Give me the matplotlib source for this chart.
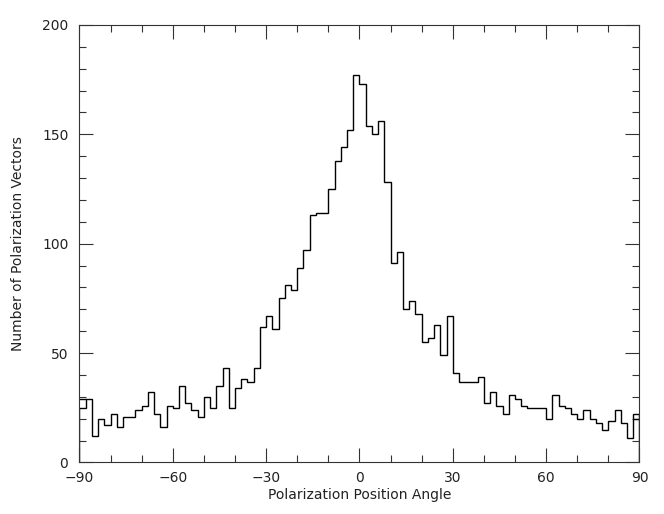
import numpy as np
import matplotlib
matplotlib.use("Agg")
import matplotlib.pyplot as plt
from matplotlib.ticker import MultipleLocator

# histogram of polarization position angles, 2 deg bins from -90 to 90
bin_edges = np.arange(-90, 92, 2)
counts = [
    25, 29, 12, 20, 17, 22, 16, 21, 21, 24, 26, 32, 22, 16, 26,      # -90..-60
    25, 35, 27, 24, 21, 30, 25, 35, 43, 25, 34, 38, 37, 43, 62,      # -60..-30
    67, 61, 75, 81, 79, 89, 97, 113, 114, 114, 125, 138, 144, 152, 177,  # -30..0
    173, 154, 150, 156, 128, 91, 96, 70, 74, 68, 55, 57, 63, 49, 67,  # 0..30
    41, 37, 37, 37, 39, 27, 32, 26, 22, 31, 29, 26, 25, 25, 25,      # 30..60
    20, 31, 26, 25, 22, 20, 24, 20, 18, 15, 19, 24, 18, 11, 22,      # 60..90
]
# wrapped levels drawn again over the edge bins
wrap_left = 29
wrap_right = 20

x_ticks = [-90, -60, -30, 0, 30, 60, 90]
y_ticks = [0, 50, 100, 150, 200]

plt.rcParams['font.family'] = ['DejaVu Sans']
fig = plt.figure(figsize=(6.64, 5.14), dpi=100)
ax = fig.add_axes([0.1197, 0.1002, 0.8434, 0.8512])

ax.stairs(counts, bin_edges, color='black', lw=1.0)
ax.hlines(wrap_left, bin_edges[0], bin_edges[1], color='black', lw=1.0)
ax.hlines(wrap_right, bin_edges[-2], bin_edges[-1], color='black', lw=1.0)

ax.set_xlim(-90, 90)
ax.set_ylim(0, 200)
ax.set_xticks(x_ticks)
ax.set_yticks(y_ticks)
ax.xaxis.set_minor_locator(MultipleLocator(10))
ax.yaxis.set_minor_locator(MultipleLocator(10))
ax.tick_params(which='both', direction='in', top=True, right=True,
               color='#333333', width=0.8, labelsize=10, labelcolor='#222222')
ax.tick_params(which='major', length=10, pad=6)
ax.tick_params(which='minor', length=5)
ax.tick_params(axis='y', pad=8)
for s in ax.spines.values():
    s.set_linewidth(0.8)
    s.set_color('#333333')

ax.set_xlabel('Polarization Position Angle', fontsize=10, color='#222222', labelpad=2)
ax.set_ylabel('Number of Polarization Vectors', fontsize=10, color='#222222', labelpad=12)

fig.savefig('out.png', dpi=100)
